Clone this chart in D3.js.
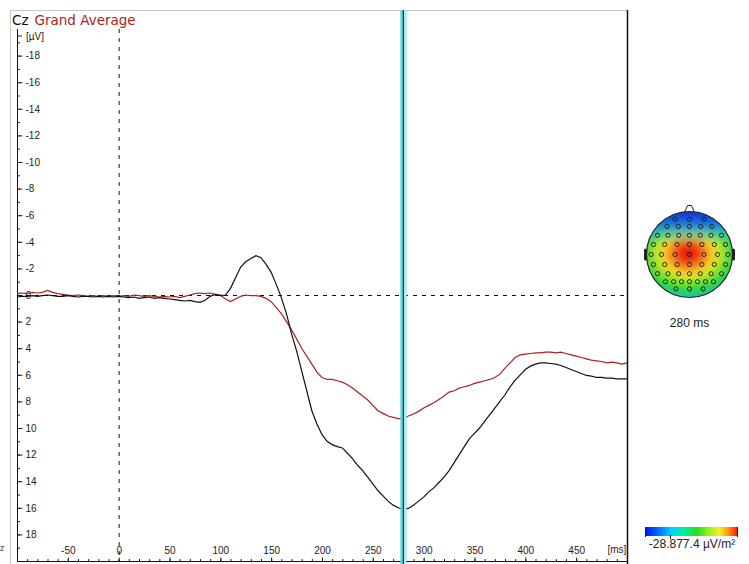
<!DOCTYPE html>
<html>
<head>
<meta charset="utf-8">
<script src="https://cdn.jsdelivr.net/npm/d3@7"></script>
<style>
html,body{margin:0;padding:0;background:#fff;}
svg{display:block;}
</style>
</head>
<body>
<svg id="chart" width="749" height="564"></svg>
<script>
// ---- data ----
const times = [-100,-95,-90,-85,-80,-75,-70,-65,-60,-55,-50,-45,-40,-35,-30,-25,-20,-15,-10,-5,
  0,5,10,15,20,25,30,35,40,45,50,55,60,65,70,75,80,85,90,95,
  100,105,110,115,120,125,130,135,140,145,150,155,160,165,170,175,180,185,190,195,
  200,205,210,215,220,225,230,235,240,245,250,255,260,265,270,275,280,285,290,295,
  300,305,310,315,320,325,330,335,340,345,350,355,360,365,370,375,380,385,390,395,
  400,405,410,415,420,425,430,435,440,445,450,455,460,465,470,475,480,485,490,495,500];
const czValues = [0.15,0.10,0.10,0.05,0.10,0.05,0.00,0.05,0.10,0.10,0.05,0.10,0.15,0.10,0.10,0.15,0.10,0.15,0.10,0.15,
  0.10,0.15,0.20,0.15,0.25,0.20,0.15,0.25,0.20,0.25,0.30,0.35,0.40,0.45,0.40,0.50,0.55,0.40,0.10,-0.05,
  0.05,0.00,-0.50,-1.30,-2.10,-2.50,-2.75,-2.95,-2.80,-2.30,-1.70,-0.80,0.20,1.40,2.90,4.20,5.70,7.20,8.70,9.70,
  10.50,11.00,11.25,11.40,11.50,11.90,12.30,12.80,13.20,13.70,14.20,14.70,15.10,15.50,15.80,16.00,16.10,16.05,15.80,15.50,
  15.20,14.80,14.50,14.10,13.70,13.20,12.60,12.00,11.40,10.80,10.40,10.00,9.50,9.00,8.50,8.00,7.50,6.90,6.40,6.00,
  5.60,5.35,5.20,5.10,5.10,5.15,5.20,5.30,5.45,5.60,5.75,5.90,6.05,6.10,6.20,6.20,6.25,6.25,6.30,6.30,6.30];
const grandAverage = [-0.10,-0.15,-0.10,-0.20,-0.15,-0.20,-0.35,-0.20,-0.10,-0.05,0.00,0.05,0.00,0.05,0.10,0.05,0.10,0.05,0.10,0.05,
  0.10,0.05,0.10,0.00,0.05,0.10,0.05,0.10,0.15,0.10,0.15,0.10,0.20,0.10,0.00,-0.10,-0.15,-0.10,-0.15,-0.05,
  0.00,0.30,0.50,0.30,0.10,0.00,0.05,0.05,0.10,0.25,0.50,0.95,1.40,2.00,2.60,3.30,4.00,4.60,5.20,5.80,
  6.20,6.35,6.35,6.45,6.55,6.75,7.00,7.30,7.60,7.90,8.30,8.70,8.90,9.10,9.20,9.30,9.30,9.10,8.95,8.75,
  8.50,8.30,8.10,7.85,7.60,7.30,7.20,7.00,6.90,6.80,6.65,6.55,6.45,6.35,6.20,5.95,5.50,5.10,4.70,4.50,
  4.45,4.40,4.35,4.35,4.30,4.30,4.35,4.30,4.40,4.50,4.60,4.70,4.80,4.90,4.95,5.00,5.10,5.05,5.10,5.20,5.10];
const channelLabel = "Cz";
const seriesLabel = "Grand Average";
const xTickValues = [-50,0,50,100,150,200,250,300,350,400,450];
const yTickValues = [-18,-16,-14,-12,-10,-8,-6,-4,-2,0,2,4,6,8,10,12,14,16,18];
const xUnit = "[ms]";
const yUnit = "[µV]";
const cursorTime = 280;
const mapLabel = "280 ms";
const scaleLabel = "-28.877.4 µV/m²";
// electrode montage (normalised head coordinates)
const electrodeRows = [
  {y:-0.88, xs:[-0.36,0,0.36]},
  {y:-0.70, xs:[-0.56,-0.28,0,0.28,0.56]},
  {y:-0.48, xs:[-0.80,-0.54,-0.27,0,0.27,0.54,0.80]},
  {y:-0.25, xs:[-0.90,-0.62,-0.31,0,0.31,0.62,0.90]},
  {y:0.00, xs:[-0.96,-0.70,-0.36,0,0.36,0.70,0.96]},
  {y:0.25, xs:[-0.90,-0.62,-0.31,0,0.31,0.62,0.90]},
  {y:0.48, xs:[-0.80,-0.54,-0.27,0,0.27,0.54,0.80]},
  {y:0.68, xs:[-0.60,-0.40,-0.20,0,0.20,0.40,0.60]},
  {y:0.86, xs:[-0.34,0,0.34]}
];

// ---- drawing ----
const svg = d3.select("#chart");
const FONT = "'Liberation Sans', Arial, sans-serif";

const x = d3.scaleLinear().domain([-100, 500]).range([17, 627]);
const y = d3.scaleLinear().domain([-20, 20]).range([29, 561]);

svg.append("rect").attr("width",749).attr("height",564).attr("fill","#fff");

// outer frame
svg.append("line").attr("x1",10.5).attr("x2",627).attr("y1",10.5).attr("y2",10.5)
  .attr("stroke","#c8c8c8").attr("stroke-width",1);
svg.append("line").attr("x1",10.5).attr("x2",10.5).attr("y1",10.5).attr("y2",564)
  .attr("stroke","#c8c8c8").attr("stroke-width",1);
svg.append("line").attr("x1",627.5).attr("x2",627.5).attr("y1",10).attr("y2",564)
  .attr("stroke","#111").attr("stroke-width",1.5);

// title
const title = svg.append("text").attr("x",12).attr("y",25)
  .attr("font-family","'DejaVu Sans', Verdana, sans-serif").attr("font-size",13.5);
title.append("tspan").attr("fill","#111").text(channelLabel);
title.append("tspan").attr("fill","#b01c1c").attr("dx",6).text(seriesLabel);

// y axis line
svg.append("line").attr("x1",17.5).attr("x2",17.5).attr("y1",y(-20)).attr("y2",y(20))
  .attr("stroke","#111").attr("stroke-width",1);
// minor y ticks
const yMinor = d3.range(-19, 20, 1);
svg.append("g").attr("transform","translate(17.5,0)")
  .call(d3.axisRight(y).tickValues(yMinor).tickSize(2.5).tickFormat(""))
  .call(g => g.select(".domain").remove())
  .call(g => g.selectAll("line").attr("stroke","#222"));
// major y ticks
svg.append("g").attr("transform","translate(17.5,0)")
  .call(d3.axisRight(y).tickValues(yTickValues).tickSize(5).tickPadding(3).tickFormat(d => String(d)))
  .call(g => g.select(".domain").remove())
  .call(g => g.selectAll("line").attr("stroke","#222"))
  .call(g => g.selectAll("text").attr("font-family",FONT).attr("font-size",10).attr("fill","#222"));
// y unit
svg.append("line").attr("x1",17.5).attr("x2",22).attr("y1",36).attr("y2",36).attr("stroke","#222");
svg.append("text").attr("x",26).attr("y",40).attr("font-family",FONT).attr("font-size",10)
  .attr("fill","#222").text(yUnit);

// x axis
svg.append("line").attr("x1",17).attr("x2",627).attr("y1",561.5).attr("y2",561.5)
  .attr("stroke","#111").attr("stroke-width",1);
svg.append("g").attr("transform","translate(0,561.5)")
  .call(d3.axisTop(x).tickValues(d3.range(-90, 500, 10)).tickSize(2.5).tickFormat(""))
  .call(g => g.select(".domain").remove())
  .call(g => g.selectAll("line").attr("stroke","#222"));
svg.append("g").attr("transform","translate(0,561.5)")
  .call(d3.axisTop(x).tickValues(xTickValues).tickSize(4).tickPadding(4).tickFormat(d => String(d)))
  .call(g => g.select(".domain").remove())
  .call(g => g.selectAll("line").attr("stroke","#222"))
  .call(g => g.selectAll("text").attr("font-family",FONT).attr("font-size",10).attr("fill","#222"));
svg.append("text").attr("x",x(490)).attr("y",553).attr("text-anchor","middle")
  .attr("font-family",FONT).attr("font-size",10).attr("fill","#222").text(xUnit);
svg.append("text").attr("x",0).attr("y",551).attr("font-family",FONT).attr("font-size",9)
  .attr("fill","#444").text("z");

// zero reference lines
svg.append("line").attr("x1",x(0)+0.5).attr("x2",x(0)+0.5).attr("y1",y(-20)).attr("y2",y(20))
  .attr("stroke","#111").attr("stroke-width",1).attr("stroke-dasharray","4,5");
svg.append("line").attr("x1",17).attr("x2",627).attr("y1",y(0)+0.5).attr("y2",y(0)+0.5)
  .attr("stroke","#111").attr("stroke-width",1).attr("stroke-dasharray","4,5");

// curves
const line = d3.line().x((d,i) => x(times[i])).y(d => y(d));
svg.append("path").datum(grandAverage).attr("d",line)
  .attr("fill","none").attr("stroke","#a82222").attr("stroke-width",1.2);
svg.append("path").datum(czValues).attr("d",line)
  .attr("fill","none").attr("stroke","#111").attr("stroke-width",1.2);

// cursor
const cx0 = x(cursorTime);
svg.append("rect").attr("x",cx0-3).attr("y",10).attr("width",6).attr("height",554).attr("fill","#5cd8e8");
svg.append("rect").attr("x",cx0+0.7).attr("y",10).attr("width",2.3).attr("height",554).attr("fill","#a8ecf4");
svg.append("line").attr("x1",cx0).attr("x2",cx0).attr("y1",10).attr("y2",564)
  .attr("stroke","#3a2e2e").attr("stroke-width",1.2);

// ---- topographic map ----
const hx = 689.5, hy = 254.5, hr = 43;
const defs = svg.append("defs");
const rg = defs.append("radialGradient").attr("id","topo").attr("gradientUnits","userSpaceOnUse")
  .attr("cx",hx-1).attr("cy",hy-1).attr("r",46)
  .attr("gradientTransform",`translate(${hx},${hy}) scale(1.25,1) translate(${-hx},${-hy})`);
[[0,"#e0100c"],[0.14,"#ee3a10"],[0.28,"#f6841c"],[0.42,"#f2cc24"],[0.54,"#c4e428"],
 [0.66,"#78de32"],[0.78,"#38d448"],[0.9,"#20c890"],[1,"#20b8d0"]].forEach(s =>
  rg.append("stop").attr("offset",s[0]).attr("stop-color",s[1]));
const lg = defs.append("linearGradient").attr("id","topoTop").attr("gradientUnits","userSpaceOnUse")
  .attr("x1",0).attr("y1",hy-hr).attr("x2",0).attr("y2",hy-hr+34);
[[0,"#1030d0",1],[0.35,"#1a70e0",0.95],[0.65,"#30b0e0",0.6],[1,"#40d0d0",0]].forEach(s =>
  lg.append("stop").attr("offset",s[0]).attr("stop-color",s[1]).attr("stop-opacity",s[2]));
defs.append("clipPath").attr("id","headClip").append("circle").attr("cx",hx).attr("cy",hy).attr("r",hr);

// ears and nose
svg.append("rect").attr("x",hx-hr-2.5).attr("y",hy-6).attr("width",3).attr("height",12).attr("rx",1.5).attr("fill","#222");
svg.append("rect").attr("x",hx+hr-0.5).attr("y",hy-6).attr("width",3).attr("height",12).attr("rx",1.5).attr("fill","#222");
svg.append("path").attr("d",`M${hx-5},${hy-hr+1} L${hx-2},${hy-hr-6} L${hx+2},${hy-hr-6} L${hx+5},${hy-hr+1}`)
  .attr("fill","#fff").attr("stroke","#222").attr("stroke-width",1);

const head = svg.append("g").attr("clip-path","url(#headClip)");
head.append("rect").attr("x",hx-hr).attr("y",hy-hr).attr("width",2*hr).attr("height",2*hr).attr("fill","url(#topo)");
head.append("rect").attr("x",hx-hr).attr("y",hy-hr).attr("width",2*hr).attr("height",2*hr).attr("fill","url(#topoTop)");
svg.append("circle").attr("cx",hx).attr("cy",hy).attr("r",hr).attr("fill","none")
  .attr("stroke","#222").attr("stroke-width",1.2);

const ex = d3.scaleLinear().domain([-1,1]).range([hx-hr*0.93, hx+hr*0.93]);
const ey = d3.scaleLinear().domain([-1,1]).range([hy-hr*0.93, hy+hr*0.93]);
const electrodes = electrodeRows.flatMap(r => r.xs.map(v => ({x:v, y:r.y})));
svg.append("g").selectAll("circle").data(electrodes).join("circle")
  .attr("cx",d => ex(d.x)).attr("cy",d => ey(d.y)).attr("r",2.1)
  .attr("fill","none").attr("stroke","#1a1a1a").attr("stroke-width",0.9);

svg.append("text").attr("x",hx).attr("y",327).attr("text-anchor","middle")
  .attr("font-family",FONT).attr("font-size",12).attr("fill","#222").text(mapLabel);

// colour scale bar
const cb = defs.append("linearGradient").attr("id","cbar");
[[0,"#0010ff"],[0.15,"#0070ff"],[0.28,"#00d0ff"],[0.42,"#00f0a0"],[0.55,"#20e020"],
 [0.68,"#90f020"],[0.8,"#f0f020"],[0.9,"#ff9010"],[1,"#ff1000"]].forEach(s =>
  cb.append("stop").attr("offset",s[0]).attr("stop-color",s[1]));
const cbX = d3.scaleLinear().domain([0,1]).range([645, 738]);
svg.append("rect").attr("x",cbX(0)).attr("y",527).attr("width",cbX(1)-cbX(0)).attr("height",9).attr("fill","url(#cbar)");
svg.append("line").attr("x1",cbX(0)+0.5).attr("x2",cbX(0)+0.5).attr("y1",527).attr("y2",537).attr("stroke","#222");
svg.append("line").attr("x1",cbX(1)-0.5).attr("x2",cbX(1)-0.5).attr("y1",527).attr("y2",537).attr("stroke","#222");
svg.append("line").attr("x1",670.5).attr("x2",670.5).attr("y1",535).attr("y2",539).attr("stroke","#222");
svg.append("text").attr("x",692).attr("y",548).attr("text-anchor","middle")
  .attr("font-family",FONT).attr("font-size",12).attr("fill","#222").text(scaleLabel);
</script>
</body>
</html>
